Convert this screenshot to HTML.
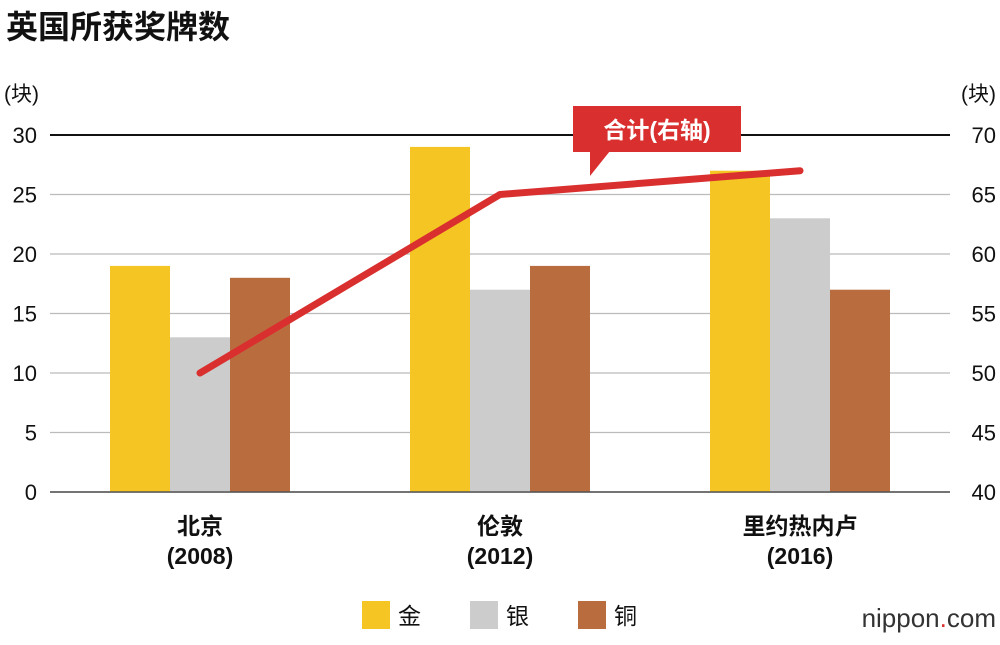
<!DOCTYPE html>
<html><head><meta charset="utf-8"><style>
body{margin:0;background:#fff;font-family:"Liberation Sans","Noto Sans CJK SC",sans-serif}
svg text{font-family:"Liberation Sans","Noto Sans CJK SC",sans-serif}
</style></head><body>
<svg id="c" width="1000" height="640" viewBox="0 0 1000 640">
<text x="6" y="38" font-size="32" font-weight="bold" fill="#111">英国所获奖牌数</text>
<text x="4" y="101" font-size="21" fill="#111">(块)</text>
<text x="996" y="101" font-size="21" fill="#111" text-anchor="end">(块)</text>
<g id="grid"></g><g id="bars"></g><g id="line"></g>
<g>
<rect x="573" y="106" width="168" height="46" fill="#d9302f"/>
<polygon points="590,151 610,151 590,176" fill="#d9302f"/>
<text x="657" y="138" font-size="23" font-weight="bold" fill="#fff" text-anchor="middle">合计(右轴)</text>
</g>
<g>
<rect x="362" y="601" width="28" height="28" fill="#f5c623"/><text x="398" y="624" font-size="23" fill="#111">金</text>
<rect x="470" y="601" width="28" height="28" fill="#cbcccb"/><text x="506" y="624" font-size="23" fill="#111">银</text>
<rect x="578" y="601" width="28" height="28" fill="#b96d3e"/><text x="614" y="624" font-size="23" fill="#111">铜</text>
</g>
<text x="996" y="627" font-size="26" fill="#333" text-anchor="end">nippon<tspan fill="#d9302f">.</tspan>com</text>
</svg>
<script>
const categories=["北京","伦敦","里约热内卢"];
const years=["(2008)","(2012)","(2016)"];
const gold=[19,29,27];
const silver=[13,17,23];
const bronze=[18,19,17];
const total=[50,65,67];
const leftTicks=[0,5,10,15,20,25,30];
const rightTicks=[40,45,50,55,60,65,70];
const NS="http://www.w3.org/2000/svg";
const y0=492,y1=135;
const yL=v=>y0-(v/30)*(y0-y1);
const yR=v=>y0-((v-40)/30)*(y0-y1);
const cx=i=>200+i*300;
function mk(t,a,p){const e=document.createElementNS(NS,t);for(const k in a)e.setAttribute(k,a[k]);p.appendChild(e);return e;}
const grid=document.getElementById('grid');
leftTicks.forEach((v,i)=>{
 const y=yL(v);
 const l=mk('line',{x1:50,x2:950,y1:y,y2:y,stroke:v==30?'#111':(v==0?'#555':'#bbb'),'stroke-width':v==30?2:1.2},grid);
 
 
 const t=mk('text',{x:37,y:y+8,'font-size':22,fill:'#111','text-anchor':'end'},grid);t.textContent=v;
 
 
 const r=mk('text',{x:996,y:yR(rightTicks[i])+8,'font-size':22,fill:'#111','text-anchor':'end'},grid);r.textContent=rightTicks[i];
 
 
});
const bars=document.getElementById('bars');
const series=[[gold,'#f5c623','gold'],[silver,'#cbcccb','silver'],[bronze,'#b96d3e','bronze']];
categories.forEach((c,i)=>{
 series.forEach((s,j)=>{
  const v=s[0][i];
  const b=mk('rect',{x:cx(i)-90+j*60,y:yL(v),width:60,height:y0-yL(v),fill:s[1]},bars);
  
  
 });
 const t=mk('text',{x:cx(i),y:534,'font-size':23,'font-weight':'bold',fill:'#111','text-anchor':'middle'},bars);t.textContent=c;
 
 
 const t2=mk('text',{x:cx(i),y:564,'font-size':23,'font-weight':'bold',fill:'#111','text-anchor':'middle'},bars);t2.textContent=years[i];
 
 
});
const base=mk('line',{x1:50,x2:950,y1:y0,y2:y0,stroke:'#555','stroke-width':1.5},bars);


const pl=mk('polyline',{points:total.map((v,i)=>cx(i)+','+yR(v)).join(' '),fill:'none',stroke:'#d9302f','stroke-width':7,'stroke-linejoin':'round','stroke-linecap':'round'},document.getElementById('line'));


</script>
</body></html>
